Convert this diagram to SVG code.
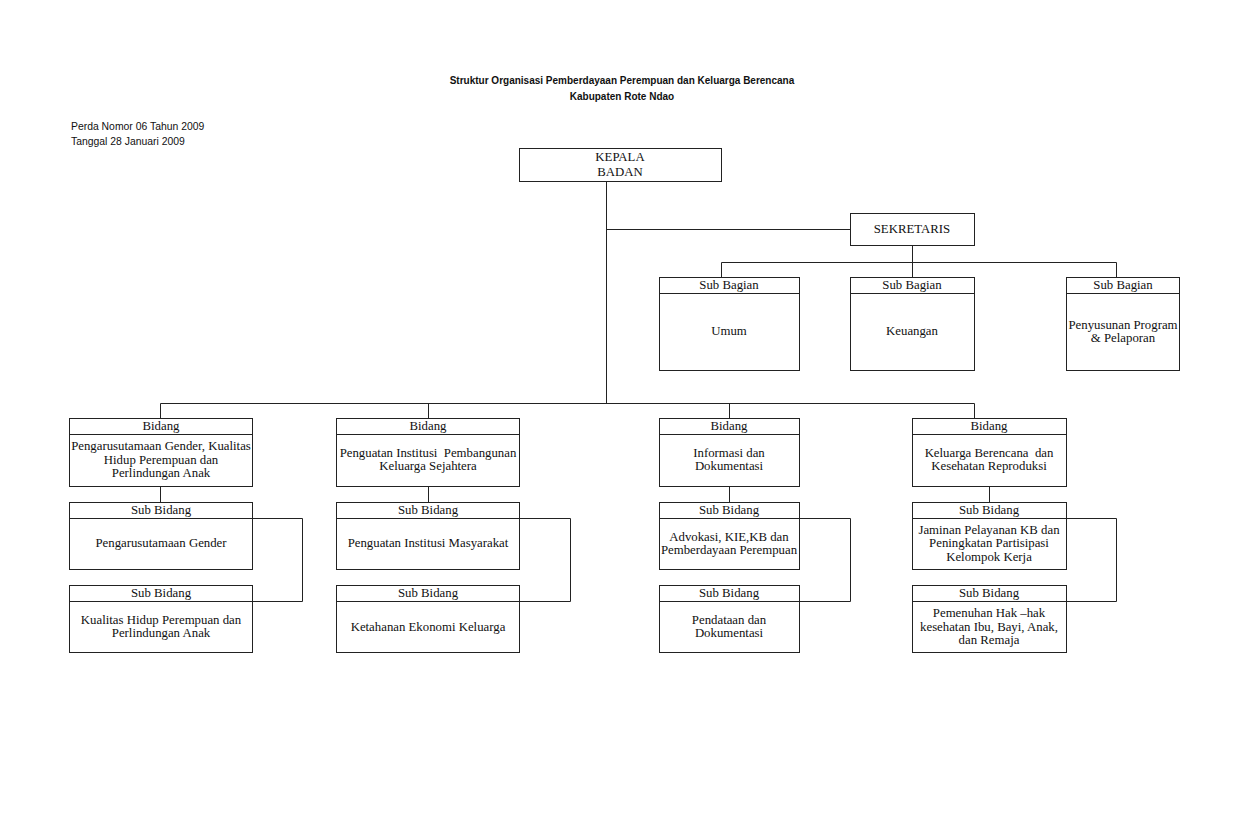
<svg xmlns="http://www.w3.org/2000/svg" width="1248" height="816" viewBox="0 0 1248 816">
<style>
.bx{fill:#fff;stroke:#222;stroke-width:1}
.ln{fill:none;stroke:#222;stroke-width:1}
.t{font-family:"Liberation Serif","Times New Roman",serif;font-size:12.8px;fill:#111;text-anchor:middle;white-space:pre}
.s{font-family:"Liberation Sans",Arial,sans-serif;font-size:10.4px;fill:#111}
.h{font-weight:bold;text-anchor:middle;font-size:10px}
</style>
<rect width="1248" height="816" fill="#fff"/>
<text class="s h" x="622" y="84">Struktur Organisasi Pemberdayaan Perempuan dan Keluarga Berencana</text>
<text class="s h" x="622" y="100">Kabupaten Rote Ndao</text>
<text class="s" x="71" y="130">Perda Nomor 06 Tahun 2009</text>
<text class="s" x="71" y="145">Tanggal 28 Januari 2009</text>

<g id="connectors">
<path class="ln" d="M606.5 181V403.5M606.5 229.5H850M912.5 245V262.5M721.5 262.5H1116.5M721.5 262.5V277M912.5 262.5V277M1116.5 262.5V277"/>
<path class="ln" d="M160.5 403.5H974.5M160.5 403.5V418M428.5 403.5V418M729.5 403.5V418M974.5 403.5V418"/>
<path class="ln" d="M160.5 486V502M428.5 486V502M729.5 486V502M989.5 486V502"/>
<path class="ln" d="M252 518.5H302.5V601.5H252M519 518.5H570.5V601.5H519M799 518.5H850.5V601.5H799M1066 518.5H1116.5V601.5H1066"/>
</g>

<g id="kepala"><rect class="bx" x="519.5" y="148.5" width="202" height="33"/><text class="t" x="620" y="161">KEPALA</text><text class="t" x="620" y="176">BADAN</text></g>
<g id="sekretaris"><rect class="bx" x="850.5" y="213.5" width="124" height="32"/><text class="t" x="912" y="233">SEKRETARIS</text></g>

<g id="sb-umum"><rect class="bx" x="659.5" y="277.5" width="140" height="93"/><path class="ln" d="M659.5 293.5H799.5"/><text class="t" x="729" y="289">Sub Bagian</text><text class="t" x="729" y="335">Umum</text></g>
<g id="sb-keuangan"><rect class="bx" x="850.5" y="277.5" width="124" height="93"/><path class="ln" d="M850.5 293.5H974.5"/><text class="t" x="912" y="289">Sub Bagian</text><text class="t" x="912" y="335">Keuangan</text></g>
<g id="sb-penyusunan"><rect class="bx" x="1066.5" y="277.5" width="113" height="93"/><path class="ln" d="M1066.5 293.5H1179.5"/><text class="t" x="1123" y="289">Sub Bagian</text><text class="t" x="1123" y="329">Penyusunan Program</text><text class="t" x="1123" y="342">&amp; Pelaporan</text></g>

<g id="bidang1"><rect class="bx" x="69.5" y="418.5" width="183" height="68"/><path class="ln" d="M69.5 434.5H252.5"/><text class="t" x="161" y="430">Bidang</text><text class="t" x="161" y="450">Pengarusutamaan Gender, Kualitas</text><text class="t" x="161" y="464">Hidup Perempuan dan</text><text class="t" x="161" y="477">Perlindungan Anak</text></g>
<g id="bidang2"><rect class="bx" x="336.5" y="418.5" width="183" height="68"/><path class="ln" d="M336.5 434.5H519.5"/><text class="t" x="428" y="430">Bidang</text><text class="t" x="428" y="457">Penguatan Institusi  Pembangunan</text><text class="t" x="428" y="470">Keluarga Sejahtera</text></g>
<g id="bidang3"><rect class="bx" x="659.5" y="418.5" width="140" height="68"/><path class="ln" d="M659.5 434.5H799.5"/><text class="t" x="729" y="430">Bidang</text><text class="t" x="729" y="457">Informasi dan</text><text class="t" x="729" y="470">Dokumentasi</text></g>
<g id="bidang4"><rect class="bx" x="912.5" y="418.5" width="154" height="68"/><path class="ln" d="M912.5 434.5H1066.5"/><text class="t" x="989" y="430">Bidang</text><text class="t" x="989" y="457">Keluarga Berencana  dan</text><text class="t" x="989" y="470">Kesehatan Reproduksi</text></g>

<g id="sub1a"><rect class="bx" x="69.5" y="502.5" width="183" height="67"/><path class="ln" d="M69.5 518.5H252.5"/><text class="t" x="161" y="514">Sub Bidang</text><text class="t" x="161" y="547">Pengarusutamaan Gender</text></g>
<g id="sub1b"><rect class="bx" x="69.5" y="585.5" width="183" height="67"/><path class="ln" d="M69.5 601.5H252.5"/><text class="t" x="161" y="597">Sub Bidang</text><text class="t" x="161" y="624">Kualitas Hidup Perempuan dan</text><text class="t" x="161" y="637">Perlindungan Anak</text></g>
<g id="sub2a"><rect class="bx" x="336.5" y="502.5" width="183" height="67"/><path class="ln" d="M336.5 518.5H519.5"/><text class="t" x="428" y="514">Sub Bidang</text><text class="t" x="428" y="547">Penguatan Institusi Masyarakat</text></g>
<g id="sub2b"><rect class="bx" x="336.5" y="585.5" width="183" height="67"/><path class="ln" d="M336.5 601.5H519.5"/><text class="t" x="428" y="597">Sub Bidang</text><text class="t" x="428" y="631">Ketahanan Ekonomi Keluarga</text></g>
<g id="sub3a"><rect class="bx" x="659.5" y="502.5" width="140" height="67"/><path class="ln" d="M659.5 518.5H799.5"/><text class="t" x="729" y="514">Sub Bidang</text><text class="t" x="729" y="541">Advokasi, KIE,KB dan</text><text class="t" x="729" y="554">Pemberdayaan Perempuan</text></g>
<g id="sub3b"><rect class="bx" x="659.5" y="585.5" width="140" height="67"/><path class="ln" d="M659.5 601.5H799.5"/><text class="t" x="729" y="597">Sub Bidang</text><text class="t" x="729" y="624">Pendataan dan</text><text class="t" x="729" y="637">Dokumentasi</text></g>
<g id="sub4a"><rect class="bx" x="912.5" y="502.5" width="154" height="67"/><path class="ln" d="M912.5 518.5H1066.5"/><text class="t" x="989" y="514">Sub Bidang</text><text class="t" x="989" y="534">Jaminan Pelayanan KB dan</text><text class="t" x="989" y="547">Peningkatan Partisipasi</text><text class="t" x="989" y="561">Kelompok Kerja</text></g>
<g id="sub4b"><rect class="bx" x="912.5" y="585.5" width="154" height="67"/><path class="ln" d="M912.5 601.5H1066.5"/><text class="t" x="989" y="597">Sub Bidang</text><text class="t" x="989" y="617">Pemenuhan Hak –hak</text><text class="t" x="989" y="631">kesehatan Ibu, Bayi, Anak,</text><text class="t" x="989" y="644">dan Remaja</text></g>
</svg>
